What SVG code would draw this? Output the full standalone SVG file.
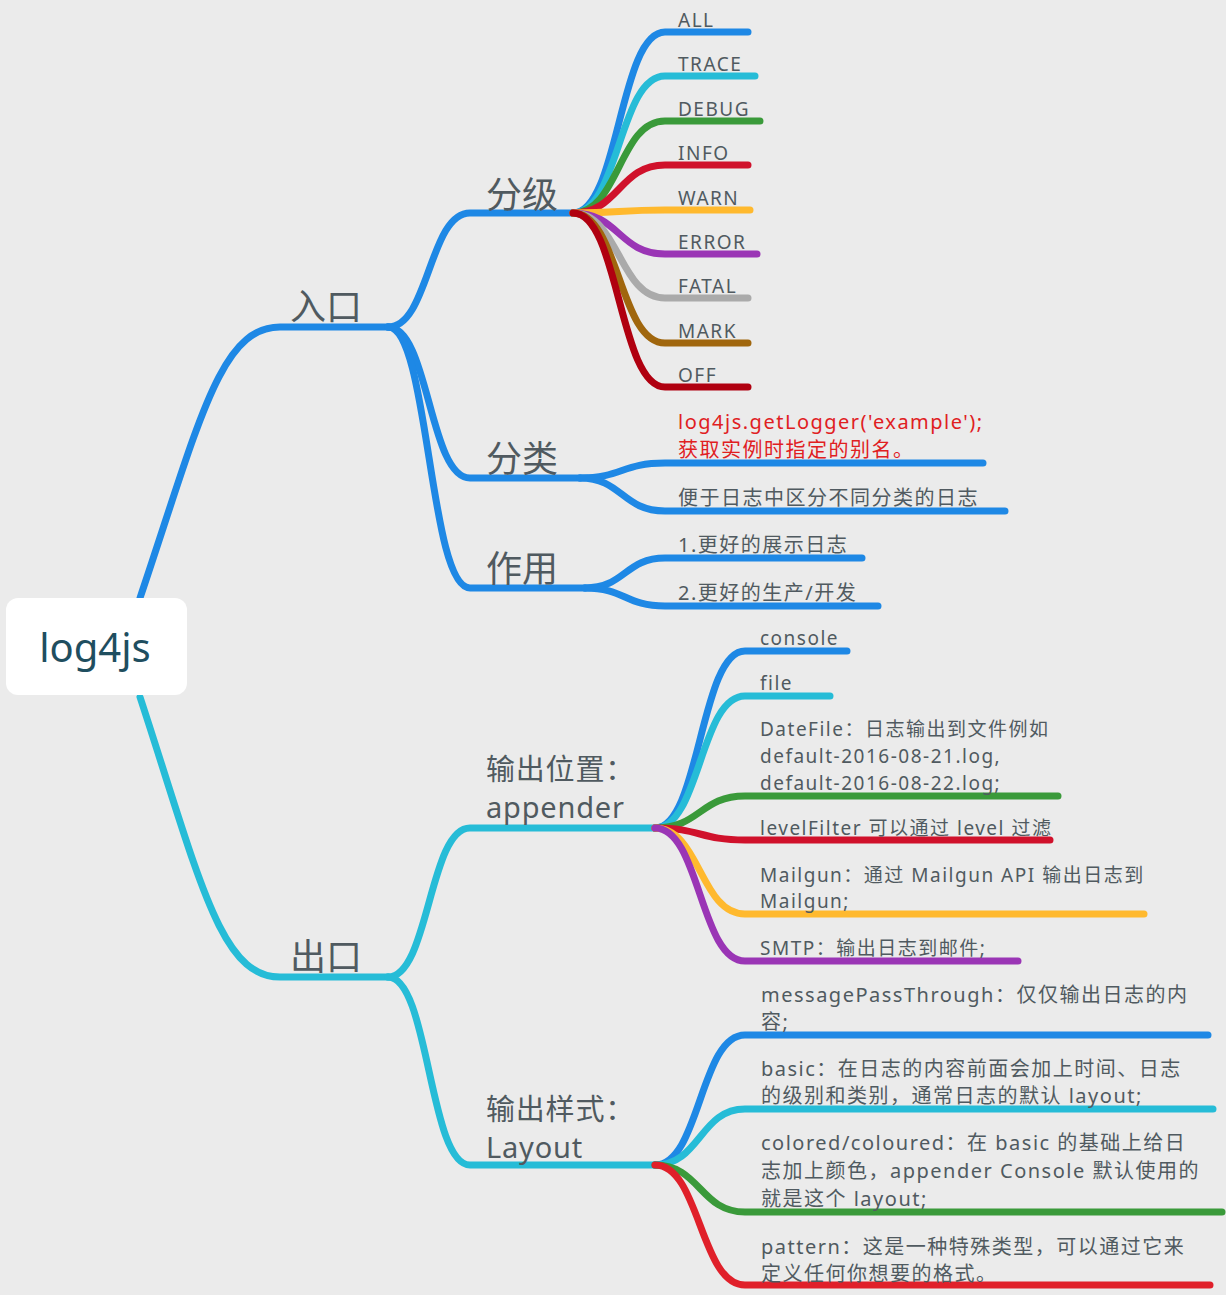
<svg xmlns="http://www.w3.org/2000/svg" width="1226" height="1295" viewBox="0 0 1226 1295">
<style>
.c{fill:none;stroke-width:7;stroke-linecap:round}
.t{font-family:"Noto Sans","Noto Sans CJK SC",sans-serif;fill:#505a60;font-size:19px;letter-spacing:1.5px}
.m{font-size:20px}
.b{font-size:36px;letter-spacing:0}
.h{font-size:29px;letter-spacing:0.8px}
.r{fill:#e0201f}
</style>
<rect width="1226" height="1295" fill="#ebebeb"/>
<g id="connectors">
<path class="c" stroke="#1e88e5" d="M140 598 C200 420,220 327,280 327 H390"/>
<path class="c" stroke="#26bcd7" d="M140 697 C200 880,220 977,280 977 H388"/>
<g stroke="#1e88e5">
<path class="c" d="M388 327 C429 327,429 213,470 213 H573"/>
<path class="c" d="M388 327 C429 327,429 478,470 478 H580"/>
<path class="c" d="M388 327 C429 327,429 588,470 588 H585"/>
</g>
<path class="c" stroke="#1e88e5" d="M573 213 C619 213,619 32,665 32 H748"/>
<path class="c" stroke="#26bcd7" d="M573 213 C619 213,619 76,665 76 H755"/>
<path class="c" stroke="#3a9a3a" d="M573 213 C619 213,619 121,665 121 H760"/>
<path class="c" stroke="#d0112b" d="M573 213 C619 213,619 165,665 165 H748"/>
<path class="c" stroke="#ffb92e" d="M573 213 C619 213,619 210,665 210 H750"/>
<path class="c" stroke="#9a35b5" d="M573 213 C619 213,619 254,665 254 H757"/>
<path class="c" stroke="#aaaaaa" d="M573 213 C619 213,619 298,665 298 H748"/>
<path class="c" stroke="#a0660d" d="M573 213 C619 213,619 343,665 343 H748"/>
<path class="c" stroke="#b00010" d="M573 213 C619 213,619 387,665 387 H748"/>
<path class="c" stroke="#1e88e5" d="M580 478 C622 478,622 463,665 463 H983"/>
<path class="c" stroke="#1e88e5" d="M580 478 C622 478,622 511,665 511 H1005"/>
<path class="c" stroke="#1e88e5" d="M585 588 C625 588,625 558,665 558 H862"/>
<path class="c" stroke="#1e88e5" d="M585 588 C625 588,625 606,665 606 H878"/>
<path class="c" stroke="#26bcd7" d="M388 977 C429 977,429 828,470 828 H655"/>
<path class="c" stroke="#26bcd7" d="M388 977 C429 977,429 1165,470 1165 H655"/>
<path class="c" stroke="#1e88e5" d="M655 828 C700 828,700 651,745 651 H847"/>
<path class="c" stroke="#26bcd7" d="M655 828 C700 828,700 696,745 696 H830"/>
<path class="c" stroke="#3a9a3a" d="M655 828 C700 828,700 796,745 796 H1058"/>
<path class="c" stroke="#d0112b" d="M655 828 C700 828,700 840,745 840 H1050"/>
<path class="c" stroke="#ffb92e" d="M655 828 C700 828,700 914,745 914 H1144"/>
<path class="c" stroke="#9a35b5" d="M655 828 C700 828,700 961,745 961 H1018"/>
<path class="c" stroke="#1e88e5" d="M655 1165 C700 1165,700 1035,745 1035 H1208"/>
<path class="c" stroke="#26bcd7" d="M655 1165 C700 1165,700 1109,745 1109 H1213"/>
<path class="c" stroke="#3a9a3a" d="M655 1165 C700 1165,700 1212,745 1212 H1222"/>
<path class="c" stroke="#e0202a" d="M655 1165 C700 1165,700 1285,745 1285 H1210"/>
</g>
<g id="root"><rect x="6" y="598" width="181" height="97" rx="12" fill="#fff"/><text x="95" y="662" text-anchor="middle" font-family="Noto Sans,sans-serif" font-size="40" fill="#1f4e5f">log4js</text></g>
<g id="n-entry"><text class="t b" x="290" y="320">入口</text></g>
<g id="n-exit"><text class="t b" x="290" y="970">出口</text></g>
<g id="n-level"><text class="t b" x="486" y="208">分级</text></g>
<g id="n-cat"><text class="t b" x="486" y="472">分类</text></g>
<g id="n-use"><text class="t b" x="486" y="582">作用</text></g>
<g id="levels">
<text class="t" x="678" y="27">ALL</text><text class="t" x="678" y="71">TRACE</text><text class="t" x="678" y="116">DEBUG</text><text class="t" x="678" y="160">INFO</text><text class="t" x="678" y="205">WARN</text><text class="t" x="678" y="249">ERROR</text><text class="t" x="678" y="293">FATAL</text><text class="t" x="678" y="338">MARK</text><text class="t" x="678" y="382">OFF</text>
</g>
<g id="cat-items">
<text class="t m r" x="678" y="429">log4js.getLogger('example');</text><text class="t m r" x="678" y="457">获取实例时指定的别名。</text>
<text class="t m" x="678" y="505">便于日志中区分不同分类的日志</text>
</g>
<g id="use-items"><text class="t m" x="678" y="552">1.更好的展示日志</text><text class="t m" x="678" y="600">2.更好的生产/开发</text></g>
<g id="n-appender"><text class="t h" x="486" y="780">输出位置：</text><text class="t h" x="486" y="818">appender</text></g>
<g id="n-layout"><text class="t h" x="486" y="1120">输出样式：</text><text class="t h" x="486" y="1158">Layout</text></g>
<g id="appenders">
<text class="t" x="760" y="645">console</text><text class="t" x="760" y="690">file</text>
<text class="t" x="760" y="736">DateFile：日志输出到文件例如</text><text class="t" x="760" y="763">default-2016-08-21.log,</text><text class="t" x="760" y="790">default-2016-08-22.log;</text>
<text class="t" x="760" y="835">levelFilter 可以通过 level 过滤</text>
<text class="t" x="760" y="882">Mailgun：通过 Mailgun API 输出日志到</text><text class="t" x="760" y="908">Mailgun;</text>
<text class="t" x="760" y="955">SMTP：输出日志到邮件;</text>
</g>
<g id="layouts">
<text class="t m" x="761" y="1002">messagePassThrough：仅仅输出日志的内</text><text class="t m" x="761" y="1029">容;</text>
<text class="t m" x="761" y="1076">basic：在日志的内容前面会加上时间、日志</text><text class="t m" x="761" y="1103">的级别和类别，通常日志的默认 layout;</text>
<text class="t m" x="761" y="1150">colored/coloured：在 basic 的基础上给日</text><text class="t m" x="761" y="1178">志加上颜色，appender Console 默认使用的</text><text class="t m" x="761" y="1206">就是这个 layout;</text>
<text class="t m" x="761" y="1254">pattern：这是一种特殊类型，可以通过它来</text><text class="t m" x="761" y="1281">定义任何你想要的格式。</text>
</g>
</svg>
